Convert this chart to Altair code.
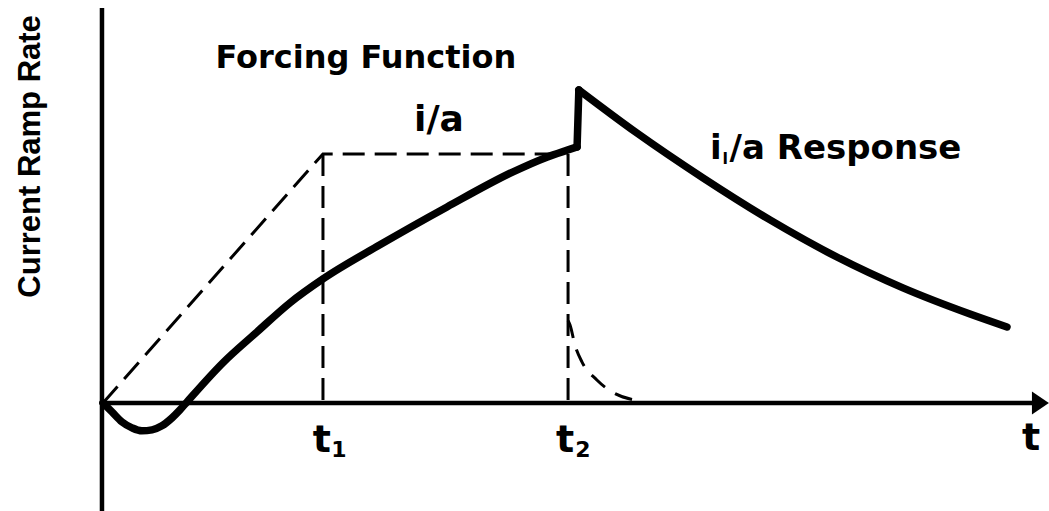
import altair as alt
import pandas as pd

# Time axis in units of t1; ramp-rate axis in units of i/a.
T1 = 1.0
T2 = 2.114
IA = 1.0

# Applied forcing function (dashed): linear ramp to i/a at t1, held until t2
force_t = [0.0, T1, T2]
force_v = [0.0, IA, IA]

# Decay of the forcing term after t2 (dashed)
decay_t = [2.114, 2.123, 2.145, 2.177, 2.245, 2.314, 2.441]
decay_v = [0.33, 0.313, 0.233, 0.165, 0.092, 0.044, 0.008]

# Limiting-current response i_l/a (solid): initial dip and rise up to t2
rise_t = [0.0, 0.041, 0.086, 0.132, 0.177, 0.223, 0.268, 0.314, 0.35, 0.382,
          0.545, 0.7, 0.85, 1.0, 1.259, 1.564, 1.864, 2.009, 2.114, 2.155]
rise_v = [0.0, -0.036, -0.076, -0.100, -0.112, -0.108, -0.092, -0.060, -0.028, 0.004,
          0.161, 0.285, 0.402, 0.498, 0.635, 0.787, 0.928, 0.984, 1.016, 1.028]
# step at t2
jump_t = [2.155, 2.163]
jump_v = [1.028, 1.257]
# decay after the step
fall_t = [2.163, 2.427, 2.727, 3.032, 3.336, 3.636, 3.941, 4.109]
fall_v = [1.257, 1.084, 0.904, 0.735, 0.586, 0.462, 0.357, 0.305]

X_DOMAIN = [-0.468, 4.3]
Y_DOMAIN = [-0.434, 1.618]
x_enc = lambda f: alt.X(f, type="quantitative", scale=alt.Scale(domain=X_DOMAIN, nice=False, zero=False), axis=None)
y_enc = lambda f: alt.Y(f, type="quantitative", scale=alt.Scale(domain=Y_DOMAIN, nice=False, zero=False), axis=None)

dash = [22, 10]

force_df = pd.DataFrame({"t": force_t, "v": force_v, "o": range(len(force_t))})
decay_df = pd.DataFrame({"t": decay_t, "v": decay_v, "o": range(len(decay_t))})
marks_df = pd.DataFrame({"t": [T1, T2], "v0": [0.0, 0.0], "v1": [IA, IA]})
resp_df = pd.concat([
    pd.DataFrame({"t": ts, "v": vs, "seg": name, "o": range(len(ts))})
    for name, ts, vs in [("rise", rise_t, rise_v), ("jump", jump_t, jump_v), ("fall", fall_t, fall_v)]
], ignore_index=True)

force_line = alt.Chart(force_df).mark_line(color="black", strokeWidth=3, strokeDash=dash).encode(
    x=x_enc("t"), y=y_enc("v"), order="o:Q")
decay_line = alt.Chart(decay_df).mark_line(color="black", strokeWidth=3, strokeDash=[18, 12],
                                           interpolate="monotone").encode(
    x=x_enc("t"), y=y_enc("v"), order="o:Q")
drop_lines = alt.Chart(marks_df).mark_rule(color="black", strokeWidth=3, strokeDash=dash).encode(
    x=x_enc("t"), y=y_enc("v1"), y2="v0")
resp_line = alt.Chart(resp_df).mark_line(color="black", strokeWidth=7.5, strokeCap="round",
                                         strokeJoin="round", interpolate="monotone").encode(
    x=x_enc("t"), y=y_enc("v"), detail="seg:N", order="o:Q")

# Axes drawn as plain lines, with an arrowhead on the time axis
axes_df = pd.DataFrame({"x0": [-0.0045, -0.014], "x1": [-0.0045, 4.24],
                        "y0": [-0.434, 0.0], "y1": [1.586, 0.0]})
axes = alt.Chart(axes_df).mark_rule(color="black", strokeWidth=4.5).encode(
    x=x_enc("x0"), x2="x1", y=y_enc("y0"), y2="y1")
arrow = alt.Chart(pd.DataFrame({"t": [4.261], "v": [0.0]})).mark_point(
    shape="M -1 -1.35 L 1 0 L -1 1.35 Z", size=289, filled=True, color="black", opacity=1
).encode(x=x_enc("t"), y=y_enc("v"))

FONT = "DejaVu Sans"

def label(text, t, v, size, align="left", font=FONT, angle=0):
    return alt.Chart(pd.DataFrame({"t": [t], "v": [v], "s": [text]})).mark_text(
        font=font, fontWeight="bold", fontSize=size, align=align, baseline="alphabetic",
        angle=angle, color="black"
    ).encode(x=x_enc("t"), y=y_enc("v"), text="s:N")

texts = [
    label("Forcing Function", 0.511, 1.345, 32),
    label("i/a", 1.414, 1.092, 36),
    label("i", 2.759, 0.98, 34),
    label("l", 2.816, 0.958, 16),
    label("/a Response", 2.848, 0.98, 34),
    label("t", 0.995, -0.197, 38, align="center"),
    label("1", 1.072, -0.217, 22, align="center"),
    label("t", 2.1, -0.197, 38, align="center"),
    label("2", 2.182, -0.217, 22, align="center"),
    label("t", 4.218, -0.189, 38, align="center"),
    label("Current Ramp Rate", -0.285, 0.99, 31, align="center", font="Liberation Sans", angle=270),
]

chart = alt.layer(
    axes, arrow, force_line, drop_lines, decay_line, resp_line, *texts
).properties(
    width=1049, height=511, autosize=alt.AutoSizeParams(type="none"), padding=0,
    background="white"
).configure_view(stroke=None)

chart.save("out.html", embed_options={"renderer": "svg", "actions": False})
